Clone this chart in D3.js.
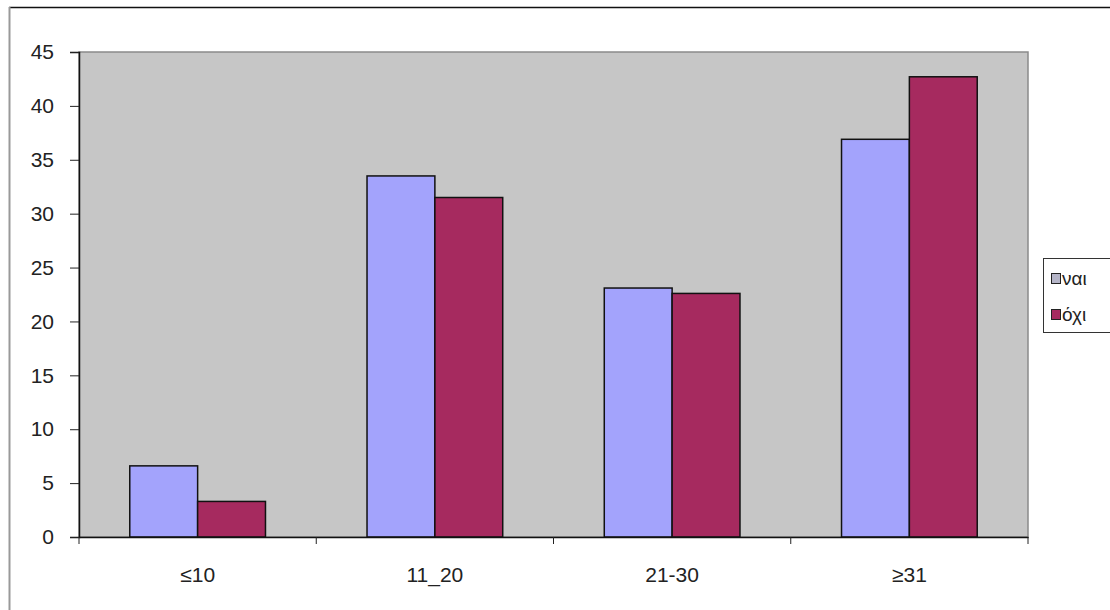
<!DOCTYPE html>
<html><head><meta charset="utf-8">
<script src="https://cdn.jsdelivr.net/npm/d3@7/dist/d3.min.js"></script>
<style>body{margin:0;background:#fff}svg{display:block;font-family:"Liberation Sans",Arial,sans-serif}</style>
</head><body><svg id="c" width="1110" height="610"></svg>
<script>
const categories = ["≤10", "11_20", "21-30", "≥31"];
const seriesNames = ["ναι", "όχι"];
const naiValues = [6.6, 33.5, 23.1, 36.9];
const oxiValues = [3.3, 31.5, 22.6, 42.7];
const yTicks = [0, 5, 10, 15, 20, 25, 30, 35, 40, 45];
const colors = ["#a3a3fc", "#a62a5f"];

const svg = d3.select("#c");
const L = 79, R = 1028, T = 52, B = 537;
const FONT = "Liberation Sans, Arial, sans-serif";

// outer frame
svg.append("line").attr("x1",9).attr("x2",1110).attr("y1",7.5).attr("y2",7.5).attr("stroke","#111").attr("stroke-width",1.5);
svg.append("line").attr("x1",9.5).attr("x2",9.5).attr("y1",7).attr("y2",610).attr("stroke","#999").attr("stroke-width",2);

const x = d3.scaleBand().domain(categories).range([L, R]).paddingInner(0.428).paddingOuter(0.214);
const x1 = d3.scaleBand().domain(seriesNames).range([0, x.bandwidth()]);
const y = d3.scaleLinear().domain([0, 45]).range([B, T]);

// plot area
svg.append("rect").attr("x",L).attr("y",T).attr("width",R-L).attr("height",B-T)
  .attr("fill","#c6c6c6").attr("stroke","#8a8a8a").attr("stroke-width",1.5);

const data = categories.map((c,i)=>({c, vals:[naiValues[i], oxiValues[i]]}));
const g = svg.append("g");
data.forEach(d=>{
  d.vals.forEach((v,j)=>{
    g.append("rect")
      .attr("x", x(d.c) + x1(seriesNames[j]))
      .attr("y", y(v))
      .attr("width", x1.bandwidth())
      .attr("height", y(0)-y(v))
      .attr("fill", colors[j]).attr("stroke","#111").attr("stroke-width",1.5);
  });
});

// y axis
const ya = svg.append("g").attr("transform",`translate(${L},0)`)
  .call(d3.axisLeft(y).tickValues(yTicks).tickSize(9).tickPadding(16));
ya.select(".domain").attr("stroke","#111").attr("stroke-width",1.5);
ya.selectAll(".tick line").attr("stroke","#222");
ya.selectAll("text").attr("font-size",21).attr("fill","#222").attr("font-family",FONT);

// x axis
const xa = svg.append("g").attr("transform",`translate(0,${B})`)
  .call(d3.axisBottom(x).tickSize(0).tickPadding(30));
xa.select(".domain").attr("stroke","#111").attr("stroke-width",1.5);
xa.selectAll("text").attr("font-size",21).attr("fill","#222").attr("font-family",FONT);
// boundary ticks
const bounds = d3.range(categories.length+1).map(i => L + i*(R-L)/categories.length);
svg.append("g").selectAll("line").data(bounds).join("line")
  .attr("x1",d=>d).attr("x2",d=>d).attr("y1",B).attr("y2",B+7).attr("stroke","#222");

// legend
const lg = svg.append("g");
lg.append("rect").attr("x",1043.5).attr("y",258.5).attr("width",80).attr("height",74)
  .attr("fill","#fff").attr("stroke","#333");
seriesNames.forEach((s,i)=>{
  const yy = 285 + i*36;
  lg.append("rect").attr("x",1051.5).attr("y",yy-11.5).attr("width",9).attr("height",10)
    .attr("fill", i===0 ? "#b5b5c8" : colors[1]).attr("stroke","#222");
  lg.append("text").attr("x",1062).attr("y",yy).attr("font-size",19).attr("fill","#222").attr("font-family",FONT).text(s);
});
</script></body></html>
